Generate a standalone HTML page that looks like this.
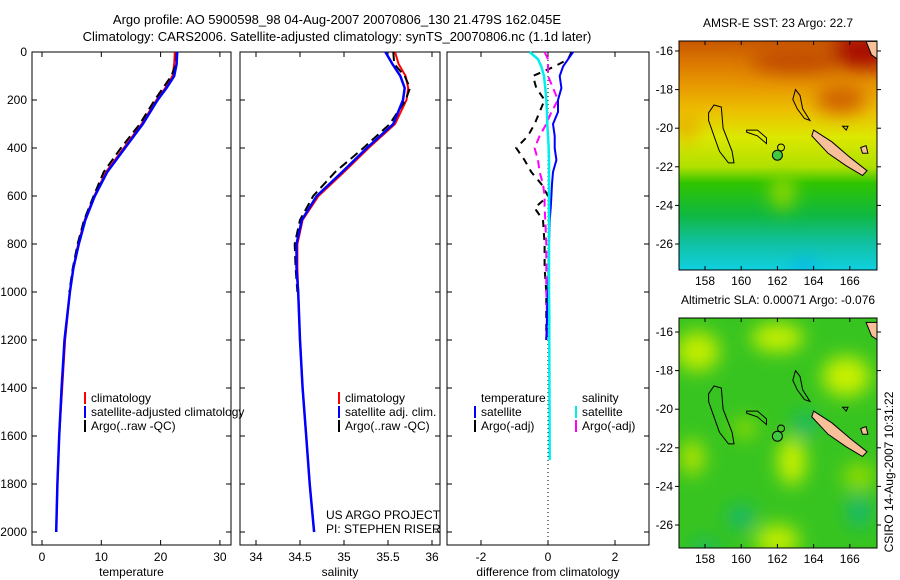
<!DOCTYPE html>
<html><head><meta charset="utf-8"><style>
html,body{margin:0;padding:0;background:#fff}
svg{display:block;font-family:"Liberation Sans",sans-serif}
</style></head><body>
<svg id="fig" width="900" height="580" viewBox="0 0 900 580" xmlns="http://www.w3.org/2000/svg">
<defs>
<linearGradient id="sstg" x1="0" y1="0" x2="0" y2="1">
<stop offset="0" stop-color="#c85800"/><stop offset="0.1" stop-color="#dc7a00"/>
<stop offset="0.2" stop-color="#e89a00"/><stop offset="0.3" stop-color="#ecbe00"/>
<stop offset="0.42" stop-color="#dce800"/><stop offset="0.55" stop-color="#b0e000"/>
<stop offset="0.62" stop-color="#30c400"/><stop offset="0.76" stop-color="#10b840"/>
<stop offset="0.88" stop-color="#10c0a0"/><stop offset="1" stop-color="#10d0e0"/>
</linearGradient>
<filter id="blur" x="-50%" y="-50%" width="200%" height="200%"><feGaussianBlur stdDeviation="9"/></filter>
<clipPath id="c1"><rect x="679" y="41" width="198" height="229"/></clipPath>
<clipPath id="c2"><rect x="679" y="318" width="198" height="230"/></clipPath>
</defs>
<g font-size="13" text-anchor="middle" fill="#000">
<text x="337" y="24">Argo profile: AO 5900598_98 04-Aug-2007 20070806_130 21.479S 162.045E</text>
<text x="337" y="41">Climatology: CARS2006. Satellite-adjusted climatology: synTS_20070806.nc (1.1d later)</text>
</g>
<g id="panels"></g>
<g id="maps"></g>
<text x="0" y="0" transform="translate(893,472) rotate(-90)" font-size="12" text-anchor="middle">CSIRO 14-Aug-2007 10:31:22</text>
</svg>
<script>
// ---- data ----
const depths      = [0,50,100,150,200,300,400,500,600,700,800,900,1000,1200,1400,1600,1800,2000];
const tempClim    = [22.4,22.3,22.0,20.8,19.3,16.8,13.8,10.8,8.8,7.2,6.1,5.3,4.7,3.9,3.4,2.9,2.6,2.4];
const tempSat     = [22.8,22.7,22.3,21.0,19.5,17.0,14.0,11.0,8.9,7.3,6.2,5.3,4.7,3.8,3.3,2.9,2.6,2.4];
const tempArgo    = [22.7,22.6,21.8,20.4,19.0,16.5,13.3,10.4,8.7,7.1,6.0,5.2,4.6];
const salClim     = [35.58,35.62,35.70,35.73,35.71,35.58,35.28,35.00,34.71,34.53,34.47,34.47,34.48,34.50,34.53,34.57,34.61,34.66];
const salSat      = [35.47,35.55,35.64,35.69,35.67,35.56,35.26,34.98,34.69,34.52,34.46,34.46,34.48,34.50,34.53,34.57,34.61,34.66];
const salArgo     = [35.56,35.57,35.69,35.75,35.70,35.52,35.22,34.90,34.65,34.50,34.44,34.45,34.47];
const diffDepths  = [0,30,60,100,150,200,250,300,350,400,450,500,550,600,650,700,800,900,1000,1100,1200];
const dTempSat    = [0.75,0.6,0.45,0.35,0.4,0.3,0.3,0.15,0.2,0.2,0.25,0.15,0.12,0.1,0.08,0.05,0.03,0.02,0.0,-0.03,-0.05];
const dSalSat     = [-0.55,-0.3,-0.2,-0.12,-0.08,-0.05,-0.03,-0.02,0,0.02,0.03,0.03,0.03,0.03,0.03,0.03,0.03,0.03,0.03,0.04,0.04];
const dTempArgo   = [0.7,0.6,0.2,-0.45,-0.35,-0.1,-0.25,-0.4,-0.6,-0.95,-0.7,-0.5,-0.2,0.0,-0.4,-0.15,-0.1,-0.1,-0.05,-0.05,-0.05];
const dSalArgo    = [-0.1,0.0,0.0,0.0,0.15,0.3,0.1,-0.05,-0.25,-0.4,-0.3,-0.25,-0.15,-0.1,-0.1,-0.08,-0.05,-0.05,-0.05,-0.03,-0.03];
const yTicks      = [0,200,400,600,800,1000,1200,1400,1600,1800,2000];
const tTicks      = [0,10,20,30];
const sTicks      = [34,34.5,35,35.5,36];
const sTickLabels = ["34","34.5","35","35.5","36"];
const dTicks      = [-2,0,2];
const lonTicks    = [158,160,162,164,166];
const latTicks    = [-16,-18,-20,-22,-24,-26];

const NS="http://www.w3.org/2000/svg";
function mk(tag,attrs,parent){const e=document.createElementNS(NS,tag);for(const k in attrs)e.setAttribute(k,attrs[k]);parent.appendChild(e);return e;}
const Y=d=>52+d*0.24;
const panels=document.getElementById('panels');

function panel(name,x0,x1,xs,ticks,labels,xlabel){
  const g=mk('g',{},panels);
  
  
  const r=mk('rect',{x:x0,y:52,width:x1-x0,height:493,fill:'none',stroke:'#000','stroke-width':1},g);
  
  
  ticks.forEach((t,i)=>{
    const x=xs(t);
    mk('line',{x1:x,x2:x,y1:545,y2:540,stroke:'#000'},g);
    mk('line',{x1:x,x2:x,y1:52,y2:57,stroke:'#000'},g);
    const tx=mk('text',{x:x,y:561,'font-size':12,'text-anchor':'middle'},g);
    tx.textContent=labels[i];
    
    
  });
  yTicks.forEach(d=>{
    mk('line',{x1:x0,x2:x0+5,y1:Y(d),y2:Y(d),stroke:'#000'},g);
    mk('line',{x1:x1,x2:x1-5,y1:Y(d),y2:Y(d),stroke:'#000'},g);
  });
  const xl=mk('text',{x:(x0+x1)/2,y:576,'font-size':12,'text-anchor':'middle'},g);
  xl.textContent=xlabel;
  
  
  return g;
}
function line(g,xs,vals,ds,color,dash,w,name){
  const pts=vals.map((v,i)=>xs(v).toFixed(1)+','+Y(ds[i]).toFixed(1)).join(' ');
  const p=mk('polyline',{points:pts,fill:'none',stroke:color,'stroke-width':w||2},g);
  if(dash)p.setAttribute('stroke-dasharray',dash);
  
  
}
function legend(g,x,y,color,label){
  mk('rect',{x:x,y:y-10,width:2,height:12,fill:color},g);
  const t=mk('text',{x:x+7,y:y,'font-size':12},g);
  t.textContent=label;
  
  
}

// panel 1 temperature
const xT=v=>42+v*5.93;
const g1=panel('temperature-panel',32,231,xT,tTicks,tTicks.map(String),'temperature');
yTicks.forEach(d=>{const t=mk('text',{x:27,y:Y(d)+4,'font-size':12,'text-anchor':'end'},g1);t.textContent=d;

});
line(g1,xT,tempClim,depths,'#ff0000',null,2,'temp-climatology-line');
line(g1,xT,tempArgo,depths.slice(0,tempArgo.length),'#000','9,5',2,'temp-argo-line');
line(g1,xT,tempSat,depths,'#0000ff',null,2.5,'temp-satellite-line');
legend(g1,84,402,'#ff0000','climatology');
legend(g1,84,416,'#0000ff','satellite-adjusted climatology');
legend(g1,84,430,'#000','Argo(..raw -QC)');

// panel 2 salinity
const xS=v=>256+(v-34)*88;
const g2=panel('salinity-panel',240,440,xS,sTicks,sTickLabels,'salinity');
line(g2,xS,salClim,depths,'#ff0000',null,2,'sal-climatology-line');
line(g2,xS,salArgo,depths.slice(0,salArgo.length),'#000','9,5',2,'sal-argo-line');
line(g2,xS,salSat,depths,'#0000ff',null,2.5,'sal-satellite-line');
legend(g2,338,402,'#ff0000','climatology');
legend(g2,338,416,'#0000ff','satellite adj. clim.');
legend(g2,338,430,'#000','Argo(..raw -QC)');
const pi1=mk('text',{x:326,y:519,'font-size':12},g2);pi1.textContent='US ARGO PROJECT';


const pi2=mk('text',{x:326,y:533,'font-size':12},g2);pi2.textContent='PI: STEPHEN RISER';



// panel 3 difference
const xD=v=>548+v*33.5;
const g3=panel('difference-panel',447,649,xD,dTicks,dTicks.map(String),'difference from climatology');
mk('line',{x1:xD(0),x2:xD(0),y1:52,y2:545,stroke:'#000','stroke-dasharray':'1,3'},g3);
line(g3,xD,dTempArgo,diffDepths,'#000','7,6',2,'temp-argo-diff-line');
line(g3,xD,dSalArgo,diffDepths,'#ff00ff','8,5',2,'sal-argo-diff-line');
line(g3,xD,dTempSat,diffDepths,'#0000ff',null,2,'temp-satellite-diff-line');
line(g3,xD,dSalSat.concat([0.05]),diffDepths.concat([1700]),'#00eeee',null,2.5,'sal-satellite-diff-line');
const lt1=mk('text',{x:481,y:402,'font-size':12},g3);lt1.textContent='temperature';


const lt2=mk('text',{x:582,y:402,'font-size':12},g3);lt2.textContent='salinity';


legend(g3,474,416,'#0000ff','satellite');
legend(g3,474,430,'#000','Argo(-adj)');
legend(g3,575,416,'#00eeee','satellite');
legend(g3,575,430,'#ff00ff','Argo(-adj)');

// ---- maps ----
const maps=document.getElementById('maps');
function mapPanel(name,top,bottom,y16,title,clip,fill){
  const g=mk('g',{},maps);
  
  
  const X=lon=>705+(lon-158)*18.1;
  const YY=lat=>y16+(-16-lat)*19.3;
  const c=mk('g',{'clip-path':'url(#'+clip+')'},g);
  fill(c,X,YY,top,bottom);
  const P=(pts,f,st)=>{const p=mk('polygon',{points:pts.map(q=>X(q[0]).toFixed(1)+','+YY(q[1]).toFixed(1)).join(' '),fill:f,stroke:st||'#000','stroke-width':1},c);return p;};
  P([[158.5,-18.8],[158.9,-18.9],[159.0,-20.0],[159.5,-21.2],[159.6,-21.8],[159.3,-21.8],[158.8,-21.2],[158.5,-20.4],[158.2,-19.6],[158.2,-19.2]],'none');
  P([[160.3,-20.1],[160.9,-20.1],[161.4,-20.5],[161.4,-20.8],[160.9,-20.4],[160.3,-20.2]],'none');
  P([[163.0,-18.0],[163.25,-18.3],[163.4,-19.0],[163.8,-19.6],[163.5,-19.5],[163.1,-19.0],[162.85,-18.5]],'none');
  P([[164.0,-20.1],[165.0,-20.7],[166.0,-21.5],[166.95,-22.2],[166.7,-22.45],[165.8,-21.95],[164.8,-21.3],[163.9,-20.4]],'#f8c098');
  P([[165.6,-19.9],[165.9,-19.9],[165.8,-20.1]],'none');
  P([[166.6,-21.0],[166.9,-20.9],[167.0,-21.3],[166.7,-21.3]],'#f8c098');
  P([[166.9,-15.5],[167.5,-15.5],[167.5,-16.4],[167.2,-16.2]],'#f8c098');
  mk('circle',{cx:X(162.0),cy:YY(-21.4),r:5,fill:'#40c840',stroke:'#000'},c);
  mk('circle',{cx:X(162.2),cy:YY(-21.0),r:3.5,fill:'none',stroke:'#000'},c);
  const fr=mk('rect',{x:679,y:top,width:198,height:bottom-top,fill:'none',stroke:'#000'},g);
  
  
  lonTicks.forEach(l=>{
    mk('line',{x1:X(l),x2:X(l),y1:bottom,y2:bottom-4,stroke:'#000'},g);
    mk('line',{x1:X(l),x2:X(l),y1:top,y2:top+4,stroke:'#000'},g);
    const t=mk('text',{x:X(l),y:bottom+15,'font-size':12,'text-anchor':'middle'},g);t.textContent=l;
    
    
  });
  latTicks.forEach(l=>{
    mk('line',{x1:877,x2:881,y1:YY(l),y2:YY(l),stroke:'#000'},g);
    mk('line',{x1:679,x2:675,y1:YY(l),y2:YY(l),stroke:'#000'},g);
    const t=mk('text',{x:673,y:YY(l)+4,'font-size':12,'text-anchor':'end'},g);t.textContent=l;
    
    
  });
  const tt=mk('text',{x:778,y:top-14,'font-size':12,'text-anchor':'middle'},g);tt.textContent=title;
  
  
}
mapPanel('sst-map',41,270,51,'AMSR-E SST: 23 Argo: 22.7','c1',(c,X,YY,top,bot)=>{
  mk('rect',{x:679,y:top,width:198,height:bot-top,fill:'url(#sstg)'},c);
  const b=mk('g',{filter:'url(#blur)'},c);
  mk('ellipse',{cx:X(166.8),cy:YY(-16),rx:32,ry:18,fill:'#a80800'},b);
  mk('ellipse',{cx:X(163),cy:YY(-16.5),rx:45,ry:12,fill:'#c04800'},b);
  mk('ellipse',{cx:X(165.5),cy:YY(-18.5),rx:25,ry:14,fill:'#d06000'},b);
  mk('ellipse',{cx:X(162.3),cy:YY(-23.3),rx:12,ry:18,fill:'#90d800'},b);
  mk('ellipse',{cx:X(157),cy:YY(-20),rx:8,ry:14,fill:'#e8a000'},b);
  mk('ellipse',{cx:X(163.5),cy:YY(-27.2),rx:12,ry:6,fill:'#10a8f0'},b);
});
mapPanel('sla-map',318,548,332,'Altimetric SLA: 0.00071 Argo: -0.076','c2',(c,X,YY,top,bot)=>{
  mk('rect',{x:679,y:top,width:198,height:bot-top,fill:'#38c420'},c);
  const b=mk('g',{filter:'url(#blur)'},c);
  const Y2=[[157.6,-17,22,20,'#c0ec00'],[162,-16.3,26,14,'#c8f000'],[165.8,-18.3,24,20,'#c8f000'],[162.8,-22.7,14,24,'#c8f000'],[162,-26.8,22,16,'#c0ec00'],[157.3,-22.5,12,18,'#b0e400'],[160.2,-21,12,10,'#90dc00'],[166.5,-23.5,16,14,'#90dc00']];
  Y2.forEach(q=>mk('ellipse',{cx:X(q[0]),cy:YY(q[1]),rx:q[2],ry:q[3],fill:q[4]},b));
  [[160,-25.6,14,12],[166.5,-25.3,12,16],[158,-27.2,14,8],[163.5,-20.8,12,12]].forEach(q=>mk('ellipse',{cx:X(q[0]),cy:YY(q[1]),rx:q[2],ry:q[3],fill:'#18b870'},b));
});
</script>
</body></html>
